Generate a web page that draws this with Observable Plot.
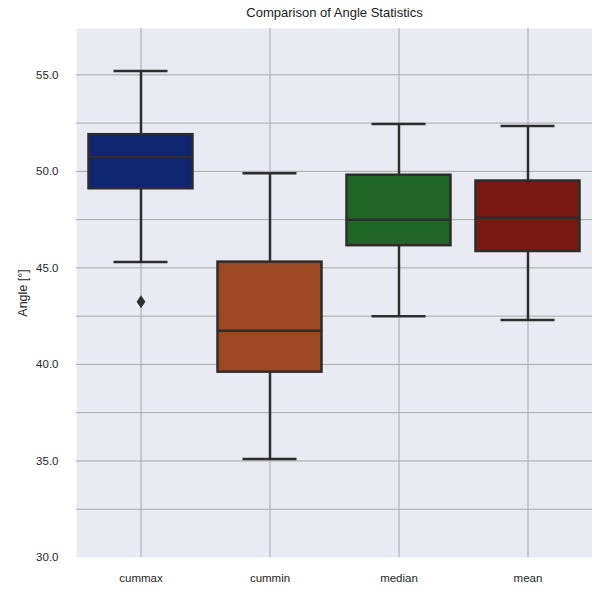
<!DOCTYPE html>
<html>
<head>
<meta charset="utf-8">
<script src="https://cdn.jsdelivr.net/npm/d3@7"></script>
<script src="https://cdn.jsdelivr.net/npm/@observablehq/plot@0.6"></script>
<style>
  html, body { margin: 0; padding: 0; background: #ffffff; }
</style>
</head>
<body>
<div id="chart"></div>
<script>
const categories = ["cummax", "cummin", "median", "mean"];
const whiskerLow = [45.3, 35.1, 42.5, 42.3];
const q1 = [49.1, 39.6, 46.15, 45.85];
const medians = [50.75, 41.75, 47.5, 47.6];
const q3 = [51.9, 45.3, 49.8, 49.5];
const whiskerHigh = [55.2, 49.9, 52.45, 52.35];
const boxColors = ["#10256f", "#9c4822", "#1e6526", "#7a1812"];
const outlierCategory = ["cummax"];
const outlierValues = [43.25];
const yTicks = [30, 35, 40, 45, 50, 55];
const yGrid = [32.5, 35, 37.5, 40, 42.5, 45, 47.5, 50, 52.5, 55];
const titleText = "Comparison of Angle Statistics";
const yLabel = "Angle [°]";

const boxes = categories.map((c, i) => ({
  cat: c, lo: whiskerLow[i], q1: q1[i], med: medians[i], q3: q3[i], hi: whiskerHigh[i], color: boxColors[i]
}));
const outliers = outlierCategory.map((c, i) => ({cat: c, v: outlierValues[i]}));

const edge = "#2d2d2d";
const lw = 2.5;

const thinDiamond = {
  draw(context, size) {
    const s = Math.sqrt(size);
    const hh = 0.82 * s, hw = 0.55 * s;
    context.moveTo(0, -hh);
    context.lineTo(hw, 0);
    context.lineTo(0, hh);
    context.lineTo(-hw, 0);
    context.closePath();
  }
};

const chart = Plot.plot({
  width: 592,
  height: 590,
  marginTop: 28,
  marginBottom: 33,
  marginLeft: 76,
  marginRight: 0,
  style: {fontFamily: "'Liberation Sans', Arial, sans-serif", fontSize: "11.5px", color: "#262626", background: "#ffffff"},
  x: {domain: categories, padding: 0, label: null},
  y: {domain: [30, 57.4], label: null},
  marks: [
    Plot.frame({fill: "#eaeaf2", stroke: null}),
    Plot.gridY(yGrid, {stroke: "#a8a8a8", strokeOpacity: 1, strokeWidth: 1}),
    Plot.gridX({stroke: "#a8a8a8", strokeOpacity: 1, strokeWidth: 1}),
    Plot.axisY(yTicks, {tickSize: 0, tickPadding: 18, tickFormat: d3.format(".1f"), label: null, fontSize: 11.5, fill: "#262626"}),
    Plot.axisX({tickSize: 0, tickPadding: 16, label: null, fontSize: 11.5, fill: "#262626"}),
    Plot.ruleX(boxes, {x: "cat", y1: "q3", y2: "hi", stroke: edge, strokeWidth: lw}),
    Plot.ruleX(boxes, {x: "cat", y1: "lo", y2: "q1", stroke: edge, strokeWidth: lw}),
    Plot.tickY(boxes, {x: "cat", y: "hi", stroke: edge, strokeWidth: lw, inset: 37.5}),
    Plot.tickY(boxes, {x: "cat", y: "lo", stroke: edge, strokeWidth: lw, inset: 37.5}),
    Plot.barY(boxes, {x: "cat", y1: "q1", y2: "q3", fill: "color", stroke: edge, strokeWidth: lw, insetLeft: 12.5, insetRight: 12.5}),
    Plot.tickY(boxes, {x: "cat", y: "med", stroke: edge, strokeWidth: lw, inset: 12.5}),
    Plot.dot(outliers, {x: "cat", y: "v", r: 4.5, symbol: thinDiamond, fill: edge, stroke: null}),
    Plot.text([titleText], {frameAnchor: "top", lineAnchor: "middle", dy: -16, fontSize: 13, fill: "#1a1a1a"}),
    Plot.text([yLabel], {frameAnchor: "left", rotate: -90, dx: -54, lineAnchor: "middle", textAnchor: "middle", fontSize: 12.5, fill: "#262626"})
  ]
});
document.getElementById("chart").appendChild(chart);
</script>
</body>
</html>
